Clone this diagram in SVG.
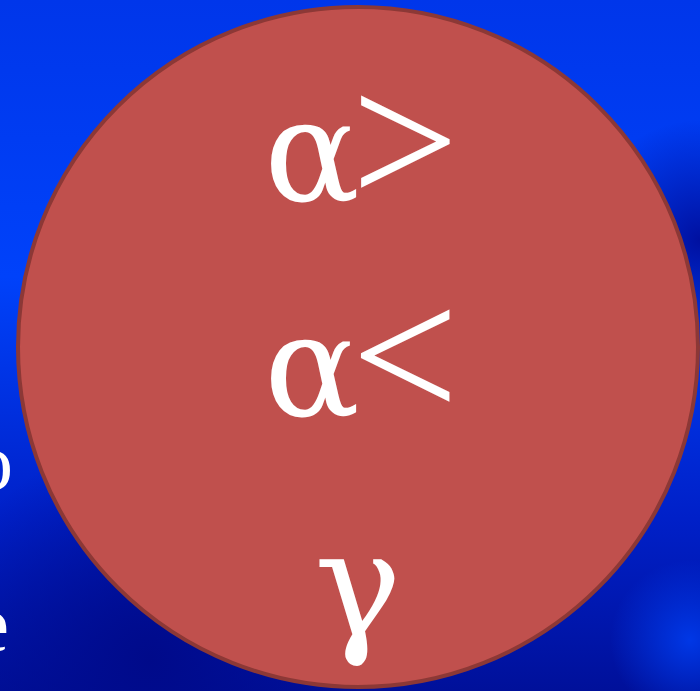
<svg xmlns="http://www.w3.org/2000/svg" width="700" height="691" viewBox="0 0 700 691">
<defs>
<linearGradient id="bg" x1="0" y1="0" x2="0" y2="1">
<stop offset="0" stop-color="#0036ea"/>
<stop offset="0.4" stop-color="#0042fa"/>
<stop offset="0.75" stop-color="#0020c8"/>
<stop offset="1" stop-color="#00109a"/>
</linearGradient>
<radialGradient id="dark1" cx="150" cy="660" r="220" gradientUnits="userSpaceOnUse">
<stop offset="0" stop-color="#000a8a" stop-opacity="1"/>
<stop offset="1" stop-color="#000a8a" stop-opacity="0"/>
</radialGradient>
<radialGradient id="dark2" cx="700" cy="240" r="120" gradientUnits="userSpaceOnUse">
<stop offset="0" stop-color="#0010a0" stop-opacity="1"/>
<stop offset="1" stop-color="#0010a0" stop-opacity="0"/>
</radialGradient>
<radialGradient id="light1" cx="690" cy="640" r="80" gradientUnits="userSpaceOnUse">
<stop offset="0" stop-color="#0040f5" stop-opacity="0.8"/>
<stop offset="1" stop-color="#0040f5" stop-opacity="0"/>
</radialGradient>
</defs>
<style>
.t{font-family:"Liberation Serif","Times New Roman",serif;fill:#ffffff;text-anchor:middle}
.g{font-family:"DejaVu Serif",serif}
.op{font-size:190px}
.al{font-size:142px}
.side{font-size:80px;text-anchor:end}
</style>
<rect width="700" height="691" fill="url(#bg)"/>
<rect width="700" height="691" fill="url(#dark1)"/>
<rect width="700" height="691" fill="url(#dark2)"/>
<rect width="700" height="691" fill="url(#light1)"/>
<g id="side-text">
<text class="t side" x="13" y="489">o</text>
<text class="t side" x="9" y="651">e</text>
</g>
<g id="circle-node">
<circle cx="358" cy="347" r="340" fill="#c0504d" stroke="#8c3836" stroke-width="4"/>
<text class="t g al" x="312" y="201">α</text>
<text class="t op" x="405" y="205">&gt;</text>
<text class="t g al" x="312" y="416">α</text>
<text class="t op" x="405" y="419">&lt;</text>
<text class="t g" x="358" y="636" font-size="146">γ</text>
</g>
</svg>
